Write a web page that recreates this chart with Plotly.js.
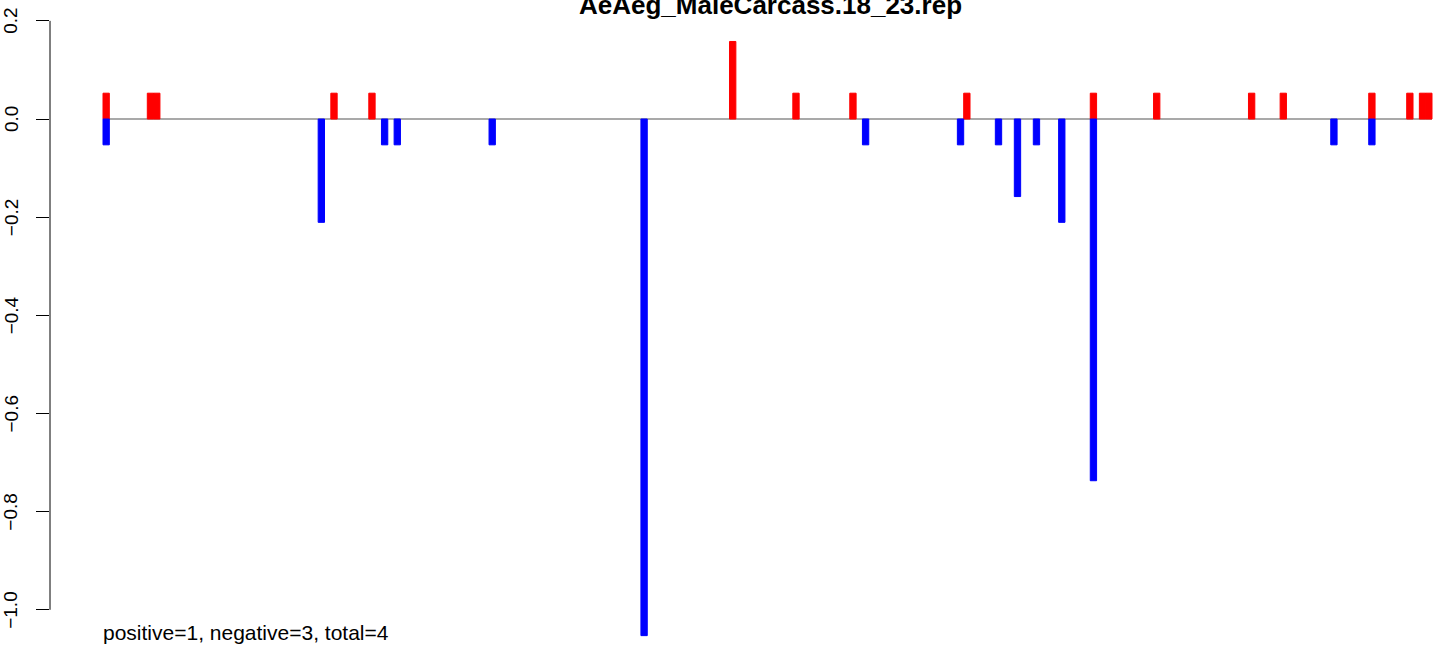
<!DOCTYPE html>
<html>
<head>
<meta charset="utf-8">
<script src="https://cdn.plot.ly/plotly-3.0.1.min.js"></script>
<style>html,body{margin:0;padding:0;background:#fff;}#chart{width:1441px;height:645px;}</style>
</head>
<body>
<div id="chart"></div>
<script>
// Data (positions are sequence slots 0..209)
const chartTitle = "AeAeg_MaleCarcass.18_23.rep";
const footerText = "positive=1, negative=3, total=4";
const nSlots = 210;

const posIndex  = [0, 7, 8, 36, 42, 99, 109, 118, 136, 156, 166, 181, 186, 200, 206, 208, 209];
const posValues = [0.0526, 0.0526, 0.0526, 0.0526, 0.0526, 0.158, 0.0526, 0.0526, 0.0526, 0.0526, 0.0526, 0.0526, 0.0526, 0.0526, 0.0526, 0.0526, 0.0526];

const negIndex  = [0, 34, 44, 46, 61, 85, 120, 135, 141, 144, 147, 151, 156, 194, 200];
const negValues = [-0.0526, -0.2105, -0.0526, -0.0526, -0.0526, -1.0526, -0.0526, -0.0526, -0.0526, -0.158, -0.0526, -0.2105, -0.737, -0.0526, -0.0526];

const yTickVals   = [0.2, 0.0, -0.2, -0.4, -0.6, -0.8, -1.0];
const yTickLabels = ["0.2", "0.0", "\u22120.2", "\u22120.4", "\u22120.6", "\u22120.8", "\u22121.0"];

const FONT = "Liberation Sans, Arial, Helvetica, sans-serif";

const traces = [
  {
    type: "bar", x: posIndex, y: posValues, width: 1,
    marker: {color: "#FF0000", line: {color: "#FF0000", width: 1}},
    hoverinfo: "x+y", showlegend: false
  },
  {
    type: "bar", x: negIndex, y: negValues, width: 1,
    marker: {color: "#0000FF", line: {color: "#0000FF", width: 1}},
    hoverinfo: "x+y", showlegend: false
  }
];

const annotations = yTickVals.map((v, i) => ({
  text: yTickLabels[i], xref: "paper", x: 0, xshift: -39,
  yref: "y", y: v, xanchor: "center", yanchor: "middle",
  textangle: -90, showarrow: false,
  font: {family: FONT, size: 19, color: "#000"}
}));

annotations.push({
  text: "<b>" + chartTitle + "</b>", xref: "paper", x: (770 - 50) / 1391,
  yref: "paper", y: 1 - 5 / 645, xanchor: "center", yanchor: "middle",
  showarrow: false, font: {family: FONT, size: 26, color: "#000"}
});

annotations.push({
  text: footerText, xref: "paper", x: (103 - 50) / 1391, xshift: -2,
  yref: "paper", y: 1 - 632 / 645, xanchor: "left", yanchor: "middle",
  showarrow: false, font: {family: FONT, size: 21, color: "#000"}
});

const layout = {
  width: 1441, height: 645,
  margin: {l: 50, r: 0, t: 0, b: 0, pad: 0},
  paper_bgcolor: "#fff", plot_bgcolor: "#fff",
  barmode: "overlay", bargap: 0,
  showlegend: false,
  xaxis: {
    range: [-8.874, 210.92], visible: false, fixedrange: true
  },
  yaxis: {
    range: [-1.0717, 0.2425],
    tickvals: yTickVals, showticklabels: false,
    ticks: "outside", ticklen: 13, tickwidth: 1, tickcolor: "#000",
    showgrid: false, zeroline: false, showline: false, fixedrange: true
  },
  shapes: [
    {type: "line", xref: "paper", x0: 0, x1: 0, yref: "y", y0: -1.0, y1: 0.2,
     line: {color: "#000", width: 1}},
    {type: "line", xref: "x", x0: -0.5, x1: nSlots - 0.5, yref: "y", y0: 0, y1: 0,
     line: {color: "#8c8c8c", width: 1.5}, layer: "below"}
  ],
  annotations: annotations
};

Plotly.newPlot("chart", traces, layout, {staticPlot: true, displayModeBar: false});
</script>
</body>
</html>
